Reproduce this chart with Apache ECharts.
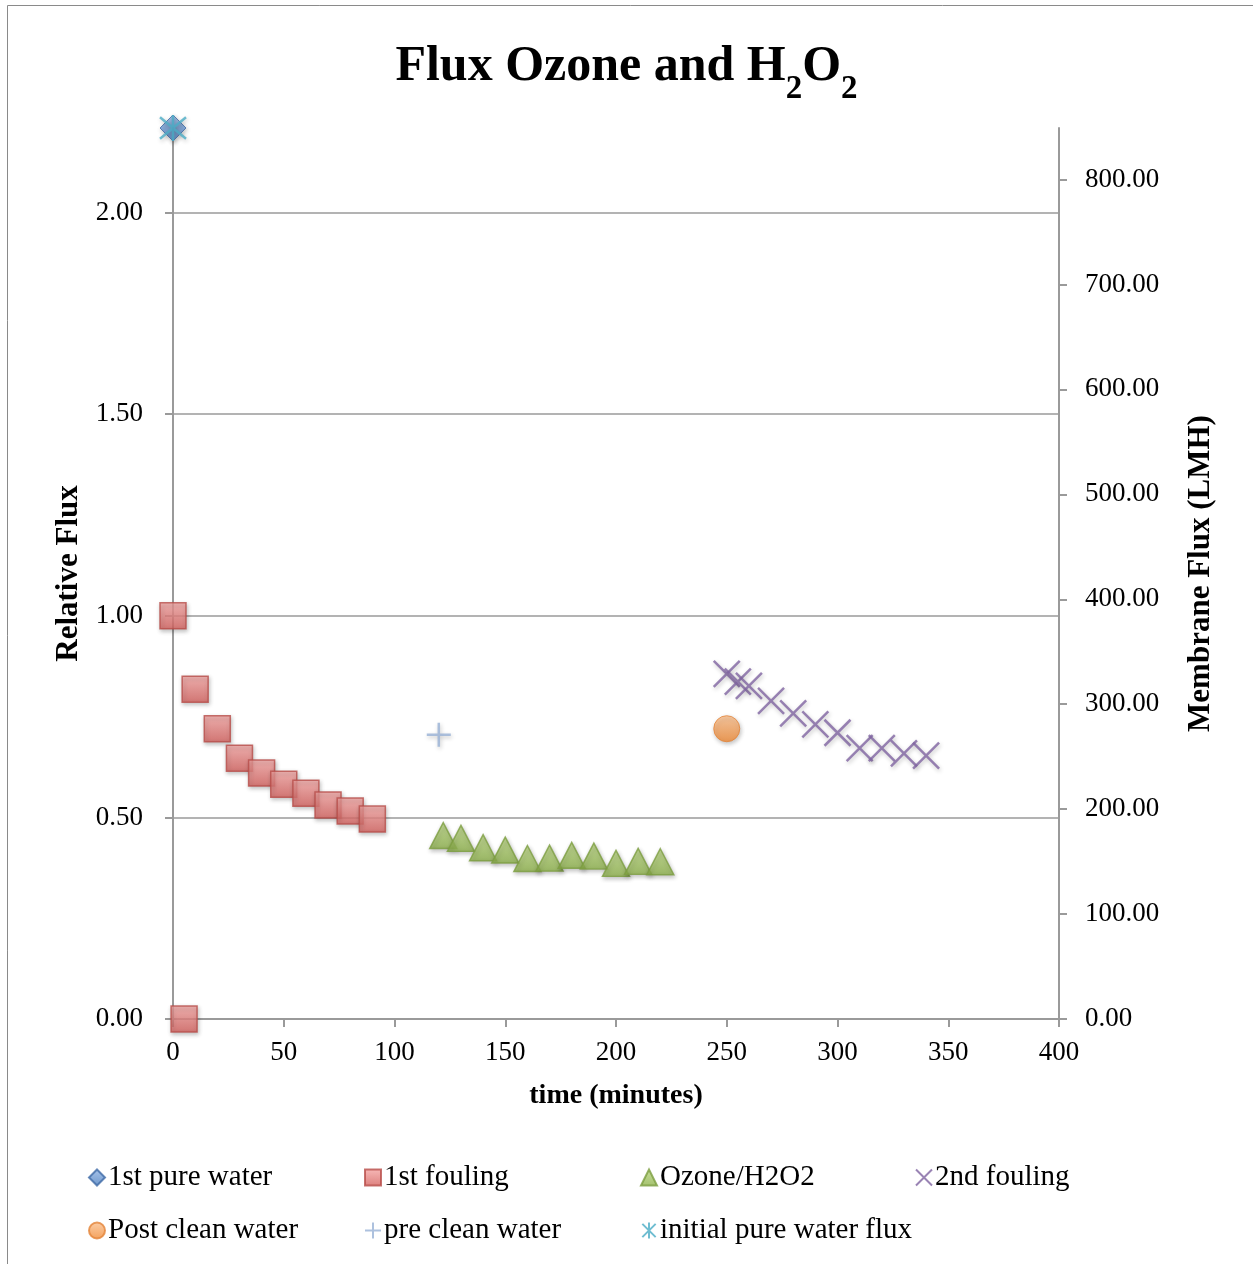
<!DOCTYPE html>
<html>
<head>
<meta charset="utf-8">
<title>Flux Ozone and H2O2</title>
<script src="https://cdn.jsdelivr.net/npm/echarts@6/dist/echarts.min.js"></script>
<style>
  html, body { margin: 0; padding: 0; background: #ffffff; }
  #chart { width: 1253px; height: 1264px; }
</style>
</head>
<body>
<div id="chart"></div>
<script>
// Relative flux measurements over time (minutes)
const pureWater1X = [0];
const pureWater1Y = [2.21];

const fouling1X = [0, 5, 10, 20, 30, 40, 50, 60, 70, 80, 90];
const fouling1Y = [1.00, 0.00, 0.818, 0.72, 0.647, 0.61, 0.582, 0.56, 0.531, 0.516, 0.496];

const ozoneX = [122, 130, 140, 150, 160, 170, 180, 190, 200, 210, 220];
const ozoneY = [0.455, 0.448, 0.425, 0.419, 0.398, 0.399, 0.406, 0.404, 0.386, 0.391, 0.39];

const fouling2X = [250, 255, 260, 270, 280, 290, 300, 310, 320, 330, 340];
const fouling2Y = [0.856, 0.837, 0.826, 0.789, 0.758, 0.731, 0.710, 0.672, 0.672, 0.659, 0.653];

const postCleanX = [250];
const postCleanY = [0.72];

const preCleanX = [120];
const preCleanY = [0.705];

const initialX = [0];
const initialY = [2.21];

// Axis settings
const xTicks = [0, 50, 100, 150, 200, 250, 300, 350, 400];
const leftTicks = [0, 0.5, 1.0, 1.5, 2.0];
const rightTicks = [0, 100, 200, 300, 400, 500, 600, 700, 800];
const leftMax = 2.21;
const lmhPerRelative = 384.2;   // membrane flux (LMH) equal to a relative flux of 1
const rightMax = leftMax * lmhPerRelative;

const FONT = '"Liberation Serif", "DejaVu Serif", serif';
const GRID_COLOR = '#9a9a9a';

function pairs(xs, ys) { return xs.map((x, i) => [x, ys[i]]); }

function vGrad(top, bottom) {
  return new echarts.graphic.LinearGradient(0, 0, 0, 1, [
    { offset: 0, color: top }, { offset: 1, color: bottom }
  ]);
}

const shadow = {
  shadowBlur: 4,
  shadowColor: 'rgba(0,0,0,0.28)',
  shadowOffsetX: 1,
  shadowOffsetY: 2
};

const X_PATH = 'path://M0,0L10,10M10,0L0,10';
const PLUS_PATH = 'path://M5,0L5,10M0,5L10,5';
const STAR_PATH = 'path://M0,0L10,10M10,0L0,10M5,-1L5,11';

const series = [
  {
    name: '1st pure water', type: 'scatter', clip: false,
    symbol: 'diamond', symbolSize: 26,
    itemStyle: Object.assign({ color: vGrad('#93b6e6', '#4a7ebf'), borderColor: '#3e6aa6', borderWidth: 1 }, shadow),
    data: pairs(pureWater1X, pureWater1Y)
  },
  {
    name: '1st fouling', type: 'scatter', clip: false,
    symbol: 'rect', symbolSize: 26,
    itemStyle: Object.assign({ color: vGrad('#f5a8a6', '#d4605d'), borderColor: '#b84d4a', borderWidth: 1.5 }, shadow),
    data: pairs(fouling1X, fouling1Y)
  },
  {
    name: 'Ozone/H2O2', type: 'scatter', clip: false,
    symbol: 'triangle', symbolSize: [27, 26],
    itemStyle: Object.assign({ color: vGrad('#bcd882', '#8db14b'), borderColor: '#7c9d40', borderWidth: 1.5 }, shadow),
    data: pairs(ozoneX, ozoneY)
  },
  {
    name: '2nd fouling', type: 'scatter', clip: false,
    symbol: X_PATH, symbolSize: 26,
    itemStyle: Object.assign({ color: 'rgba(0,0,0,0)', borderColor: '#7f64a1', borderWidth: 2.5 }, shadow),
    data: pairs(fouling2X, fouling2Y)
  },
  {
    name: 'Post clean water', type: 'scatter', clip: false,
    symbol: 'circle', symbolSize: 26,
    itemStyle: Object.assign({ color: vGrad('#fbc190', '#f08a35'), borderColor: '#e3853a', borderWidth: 1 }, shadow),
    data: pairs(postCleanX, postCleanY)
  },
  {
    name: 'pre clean water', type: 'scatter', clip: false,
    symbol: PLUS_PATH, symbolSize: 24,
    itemStyle: Object.assign({ color: 'rgba(0,0,0,0)', borderColor: '#98b1d6', borderWidth: 2.5 }, shadow),
    data: pairs(preCleanX, preCleanY)
  },
  {
    name: 'initial pure water flux', type: 'scatter', clip: false,
    symbol: STAR_PATH, symbolSize: 26,
    itemStyle: Object.assign({ color: 'rgba(0,0,0,0)', borderColor: '#4bacc6', borderWidth: 2.5 }, shadow),
    data: pairs(initialX, initialY)
  }
];

function legendColumn(left, names) {
  return {
    orient: 'vertical',
    left: left,
    top: 1158,
    itemWidth: 16,
    itemHeight: 16,
    itemGap: 24,
    data: names,
    textStyle: { fontFamily: FONT, fontSize: 29, color: '#000', lineHeight: 28, padding: [0, 0, 0, -2] },
    selectedMode: false
  };
}

const chart = echarts.init(document.getElementById('chart'), null, { renderer: 'canvas' });

chart.setOption({
  animation: false,
  backgroundColor: '#ffffff',
  graphic: [{
    type: 'rect',
    shape: { x: 7.5, y: 5.5, width: 1300, height: 1300 },
    style: { fill: 'none', stroke: '#8a8a8a', lineWidth: 1 },
    silent: true
  }],
  title: {
    text: '{a|Flux Ozone and H}{b|2}{a|O}{b|2}',
    left: 'center',
    top: 37,
    textStyle: {
      rich: {
        a: { fontFamily: FONT, fontSize: 50, fontWeight: 'bold', color: '#000', lineHeight: 64, verticalAlign: 'top' },
        b: { fontFamily: FONT, fontSize: 33, fontWeight: 'bold', color: '#000', lineHeight: 33, verticalAlign: 'bottom' }
      }
    }
  },
  legend: [
    legendColumn(83, ['1st pure water', 'Post clean water']),
    legendColumn(359, ['1st fouling', 'pre clean water']),
    legendColumn(635, ['Ozone/H2O2', 'initial pure water flux']),
    legendColumn(910, ['2nd fouling'])
  ],
  grid: { left: 173, right: 194, top: 128, bottom: 245, containLabel: false },
  xAxis: {
    type: 'value',
    min: xTicks[0],
    max: xTicks[xTicks.length - 1],
    interval: 50,
    name: 'time (minutes)',
    nameLocation: 'middle',
    nameGap: 63,
    nameTextStyle: { fontFamily: FONT, fontSize: 28, fontWeight: 'bold', color: '#000' },
    axisLine: { show: true, onZero: false, lineStyle: { color: GRID_COLOR, width: 2 } },
    axisTick: { show: true, length: 8, lineStyle: { color: GRID_COLOR, width: 2 } },
    axisLabel: { margin: 20, fontFamily: FONT, fontSize: 27, color: '#000' },
    splitLine: { show: false }
  },
  yAxis: [
    {
      type: 'value',
      position: 'left',
      min: 0,
      max: leftMax,
      interval: 0.5,
      name: 'Relative Flux',
      nameLocation: 'middle',
      nameGap: 88,
      nameTextStyle: { fontFamily: FONT, fontSize: 31, fontWeight: 'bold', color: '#000' },
      axisLine: { show: true, lineStyle: { color: GRID_COLOR, width: 2 } },
      axisTick: { show: true, length: 8, lineStyle: { color: GRID_COLOR, width: 2 }, customValues: leftTicks },
      axisLabel: {
        margin: 30, fontFamily: FONT, fontSize: 27, color: '#000',
        customValues: leftTicks,
        formatter: v => v.toFixed(2)
      },
      splitLine: { show: true, lineStyle: { color: GRID_COLOR, width: 1.5 } }
    },
    {
      type: 'value',
      position: 'right',
      min: 0,
      max: rightMax,
      interval: 100,
      name: 'Membrane Flux (LMH)',
      nameLocation: 'middle',
      nameGap: 126,
      nameTextStyle: { fontFamily: FONT, fontSize: 31, fontWeight: 'bold', color: '#000' },
      axisLine: { show: true, lineStyle: { color: GRID_COLOR, width: 2 } },
      axisTick: { show: true, length: 8, lineStyle: { color: GRID_COLOR, width: 2 }, customValues: rightTicks },
      axisLabel: {
        margin: 26, fontFamily: FONT, fontSize: 27, color: '#000',
        customValues: rightTicks,
        formatter: v => v.toFixed(2)
      },
      splitLine: { show: false }
    }
  ],
  series: series
});
</script>
</body>
</html>
